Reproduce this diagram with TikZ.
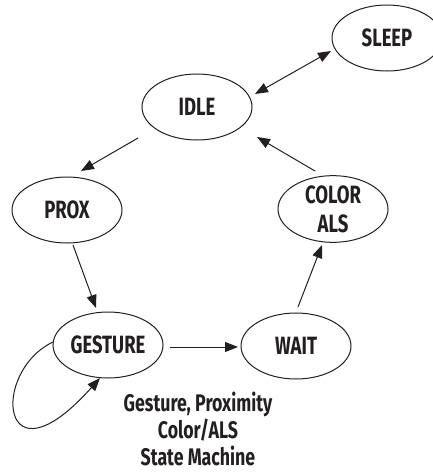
\documentclass[tikz,border=0pt]{standalone}
\usepackage{fontspec}
\setmainfont{Fira Sans}[FakeStretch=0.74]
\usetikzlibrary{shapes.geometric,arrows.meta}
\definecolor{ink}{HTML}{231F20}
\tikzset{
  state/.style={ellipse, draw=ink, line width=1pt, minimum width=110pt, minimum height=66pt, inner sep=0pt, text=ink, font=\fontsize{25}{29}\selectfont\bfseries, align=center},
  arr/.style={draw=ink, line width=1pt, -{Triangle[length=13pt,width=10pt]}},
  darr/.style={draw=ink, line width=1pt, {Triangle[length=13pt,width=10pt]}-{Triangle[length=13pt,width=10pt]}},
  caption/.style={text=ink, font=\fontsize{24}{27}\selectfont\bfseries, align=center, inner sep=0pt}
}
\begin{document}
\begin{tikzpicture}[x=1pt,y=-1pt]
\useasboundingbox (0,0) rectangle (432,472);
\node[state] (sleep) at (387,38) {SLEEP};
\node[state] (idle) at (197,107) {IDLE};
\node[state] (prox) at (67,210) {PROX};
\node[state] (color) at (333,209) {COLOR\\ALS};
\node[state] (gesture) at (108,345) {GESTURE};
\node[state] (wait) at (296,346) {WAIT};
\node[caption] (cap) at (198,429) {Gesture, Proximity\\Color/ALS\\State Machine};
\draw[darr] ([shift={(58,-13)}]idle.center) -- ([shift={(-56,13)}]sleep.center);
\draw[arr] ([shift={(-59,31)}]idle.center) -- ([shift={(14,-39)}]prox.center);
\draw[arr] ([shift={(-18,-38)}]color.center) -- ([shift={(60,30)}]idle.center);
\draw[arr] ([shift={(6,35)}]prox.center) -- ([shift={(-12,-37)}]gesture.center);
\draw[arr] ([shift={(62,2)}]gesture.center) -- ([shift={(-58,1)}]wait.center);
\draw[arr] ([shift={(2,-39)}]wait.center) -- ([shift={(-11,36)}]color.center);
\draw[arr] ([shift={(-55,-3)}]gesture.center) .. controls (-10,372) and (0,490) .. ([shift={(-8,33)}]gesture.center);
\end{tikzpicture}
\end{document}
